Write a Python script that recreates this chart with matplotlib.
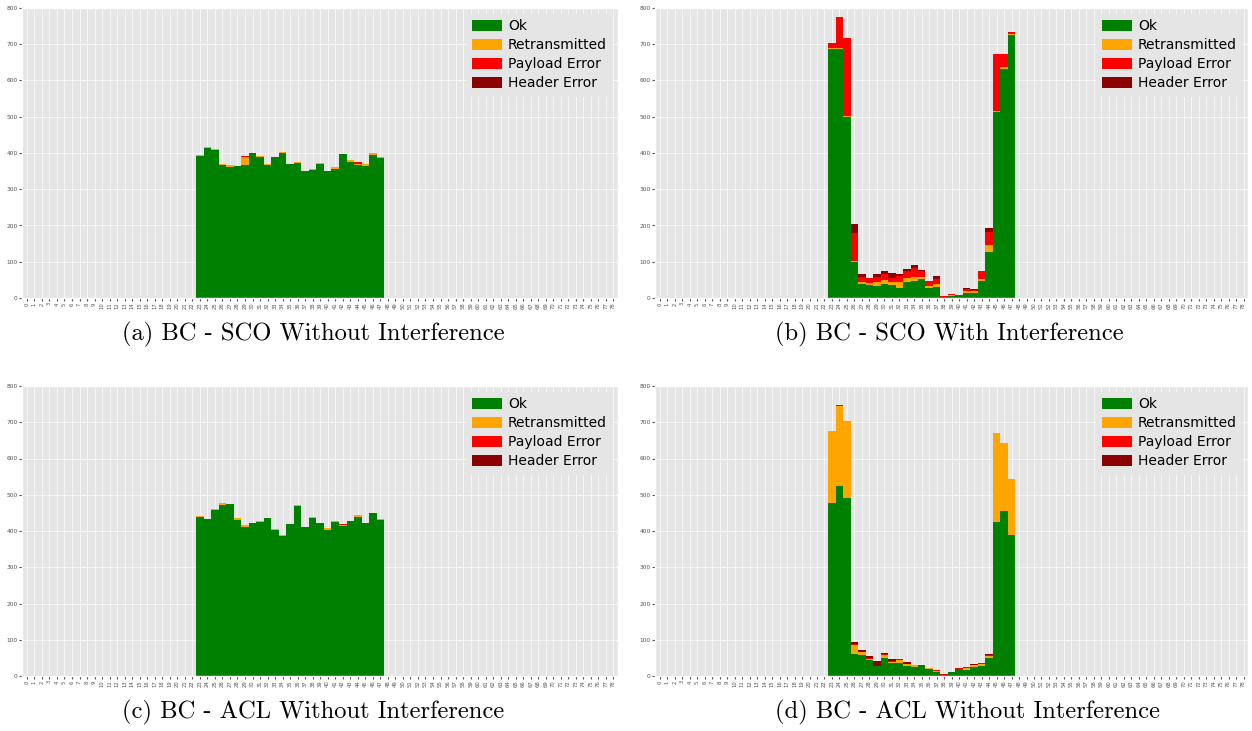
import numpy as np
import matplotlib
matplotlib.use("Agg")
import matplotlib.pyplot as plt

plt.style.use("ggplot")

# channel axis and the channels that actually carried traffic
channels = np.arange(79)
first_used = 23

status = ["Ok", "Retransmitted", "Payload Error", "Header Error"]
colors = ["green", "orange", "red", "darkred"]

# (a) BC - SCO without interference, channels 23..47
ok_a = [392, 414, 407, 367, 362, 364, 366, 399, 389, 367, 388, 401, 370,
        373, 350, 354, 371, 349, 357, 396, 375, 366, 363, 395, 385]
ret_a = [3, 2, 3, 4, 4, 1, 22, 2, 3, 2, 1, 1, 1, 2, 1, 1, 1, 1, 4, 2, 5, 4, 6, 4, 5]
pay_a = [0, 0, 0, 0, 0, 0, 3, 0, 0, 0, 0, 0, 0, 0, 0, 0, 0, 0, 0, 0, 1, 5, 0, 0, 0]
hdr_a = [0] * 25

# (b) BC - SCO with interference
ok_b = [688, 686, 500, 98, 39, 35, 33, 39, 35, 28, 43, 47, 52,
        28, 30, 4, 6, 6, 14, 13, 46, 128, 512, 632, 725]
ret_b = [2, 3, 3, 3, 5, 7, 12, 11, 9, 15, 13, 11, 5, 5, 9, 0, 2, 0, 6, 5, 6, 18, 3, 5, 2]
pay_b = [14, 87, 213, 77, 14, 12, 12, 16, 12, 18, 19, 24, 17,
         14, 14, 2, 4, 2, 5, 3, 23, 35, 157, 35, 8]
hdr_b = [0, 0, 0, 25, 9, 0, 8, 8, 12, 5, 6, 9, 3, 0, 9, 0, 0, 0, 3, 4, 0, 13, 0, 0, 0]

# (c) BC - ACL without interference
ok_c = [440, 433, 457, 473, 474, 431, 412, 421, 424, 436, 404, 387, 418,
        469, 411, 435, 421, 404, 424, 415, 427, 440, 422, 449, 431]
ret_c = [1, 1, 3, 3, 1, 4, 4, 1, 4, 1, 1, 3, 1, 2, 1, 4, 1, 4, 3, 2, 1, 3, 1, 1, 3]
pay_c = [0, 0, 0, 1, 0, 0, 0, 0, 0, 0, 0, 0, 0, 0, 0, 0, 0, 0, 0, 2, 0, 0, 0, 0, 0]
hdr_c = [0] * 25

# (d) BC - ACL, second run
ok_d = [476, 524, 490, 62, 57, 43, 28, 51, 35, 37, 28, 24, 30,
        19, 11, 3, 11, 18, 17, 26, 28, 50, 424, 455, 389]
ret_d = [201, 222, 213, 24, 9, 5, 0, 7, 5, 8, 5, 6, 0,
         2, 4, 1, 0, 2, 6, 3, 6, 6, 247, 187, 154]
pay_d = [0, 2, 0, 2, 1, 2, 0, 2, 1, 1, 1, 0, 0, 1, 1, 1, 0, 1, 1, 1, 1, 2, 0, 0, 0]
hdr_d = [0, 0, 0, 6, 5, 5, 13, 4, 5, 0, 5, 0, 0, 0, 0, 0, 0, 2, 2, 3, 0, 3, 0, 0, 0]

panels = [
    ("(a) BC - SCO Without Interference", [ok_a, ret_a, pay_a, hdr_a]),
    ("(b) BC - SCO With Interference", [ok_b, ret_b, pay_b, hdr_b]),
    ("(c) BC - ACL Without Interference", [ok_c, ret_c, pay_c, hdr_c]),
    ("(d) BC - ACL Without Interference", [ok_d, ret_d, pay_d, hdr_d]),
]

W, H = 1252, 731
fig = plt.figure(figsize=(W / 100, H / 100), dpi=100)
fig.patch.set_facecolor("white")

# axes boxes in pixels: left, top, width, height
boxes = [(22, 8, 596, 290), (655, 8, 593, 290),
         (22, 386, 596, 290), (655, 386, 593, 290)]
caption_x = [122, 775, 122, 775]
caption_y = [334, 334, 712, 712]


def full(vals):
    arr = np.zeros(len(channels))
    arr[first_used:first_used + len(vals)] = vals
    return arr


for i, (title, series) in enumerate(panels):
    l, t, w, h = boxes[i]
    ax = fig.add_axes([l / W, 1 - (t + h) / H, w / W, h / H])
    bottom = np.zeros(len(channels))
    for name, col, vals in zip(status, colors, series):
        v = full(vals)
        ax.bar(channels, v, width=1.0, bottom=bottom, color=col,
               label=name, linewidth=0)
        bottom += v
    ax.set_xlim(-0.65, 78.6)
    ax.set_ylim(0, 800)
    ax.set_yticks(np.arange(0, 801, 100))
    ax.set_xticks(channels)
    ax.set_xticklabels([str(c) for c in channels], rotation=90, fontsize=3.8)
    ax.tick_params(axis="y", labelsize=4.2, length=2, pad=1)
    ax.tick_params(axis="x", length=2, pad=1)
    ax.grid(True, color="white", linewidth=0.6, alpha=0.8)
    ax.legend(loc="upper right", fontsize=10, handlelength=2.2,
              handleheight=0.85, handletextpad=0.4, labelspacing=0.36,
              frameon=True, facecolor="#E5E5E5", edgecolor="#E5E5E5",
              framealpha=1, borderaxespad=0.4)
    fig.text(caption_x[i] / W, 1 - caption_y[i] / H, title,
             family=["cmr10", "DejaVu Serif"], fontsize=17.7,
             ha="left", va="center")

fig.savefig("out.png", dpi=100)
